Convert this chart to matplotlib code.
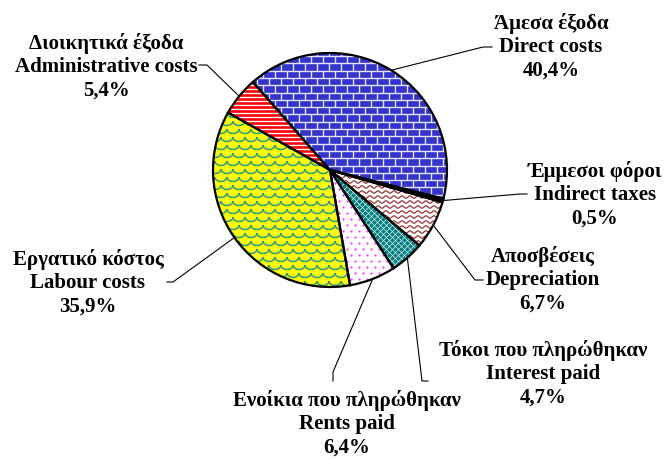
import numpy as np
import matplotlib
matplotlib.use("Agg")
import matplotlib.pyplot as plt
from matplotlib.collections import LineCollection

# Cost structure, in clockwise order starting at the top-left
names_gr = ["Άμεσα έξοδα", "Έμμεσοι φόροι", "Αποσβέσεις", "Τόκοι που πληρώθηκαν",
            "Ενοίκια που πληρώθηκαν", "Εργατικό κόστος", "Διοικητικά έξοδα"]
names_en = ["Direct costs", "Indirect taxes", "Depreciation", "Interest paid",
            "Rents paid", "Labour costs", "Administrative costs"]
shares = [40.4, 0.5, 6.7, 4.7, 6.4, 35.9, 5.4]

W, H = 664, 459
CX, CY, R = 330, H - 170, 117
START = 131.2

# label layout in pixel coords (centre x, middle line y), leader elbow and end
label_xy = [(551, 47), (595, 195), (543, 280), (543, 374), (347, 424), (88, 283), (106, 67)]
elbows = [(483, 47), (520, 194), (475, 280), (422, 381), (333, 372), (173, 282), (207, 65)]
ends = [(492, 47), (527, 194), (483, 280), (428, 381), (333, 381), (167, 282), (199, 65)]

faces = ["#3434CC", "#000000", "#FFFFFF", "#FFFFFF", "#FFFFFF", "#FFFF00", "#FF0000"]

fig = plt.figure(figsize=(W / 100, H / 100), dpi=100)
ax = fig.add_axes([0, 0, 1, 1])

wedges, _ = ax.pie(shares, colors=faces, startangle=START, counterclock=False,
                   center=(CX, CY), radius=R, wedgeprops=dict(linewidth=0))
outl, _ = ax.pie(shares, colors=faces, startangle=START, counterclock=False,
                 center=(CX, CY), radius=R,
                 wedgeprops=dict(fill=False, edgecolor="black", linewidth=1.6))
for w in outl:
    w.set_zorder(5)

x0, x1 = CX - R - 10, CX + R + 10
y0, y1 = CY - R - 10, CY + R + 10


def add_lines(segs, wedge, color, lw):
    lc = LineCollection(segs, colors=color, linewidths=lw, zorder=3)
    lc.set_clip_path(wedge)
    ax.add_collection(lc)


# Direct costs: bricks
segs = []
bh, bw = 7.3, 12.0
for k, y in enumerate(np.arange(y0, y1, bh)):
    segs.append([(x0, y), (x1, y)])
    off = (k % 2) * bw / 2
    for x in np.arange(x0 + off, x1, bw):
        segs.append([(x, y), (x, y + bh)])
add_lines(segs, wedges[0], "#E4E4F8", 1.0)

# Administrative costs: white horizontal stripes
add_lines([[(x0, y), (x1, y)] for y in np.arange(y0, y1, 4.0)], wedges[6], "white", 1.0)

# Depreciation: brown waves
xs = np.linspace(x0, x1, 600)
add_lines([np.column_stack([xs, y + 1.2 * np.sin(xs * 2 * np.pi / 8)])
           for y in np.arange(y0, y1, 5.0)], wedges[2], "#993333", 0.9)

# Labour costs: teal scales
segs = []
t = np.linspace(np.pi, 2 * np.pi, 14)
for k, y in enumerate(np.arange(y0, y1, 8.0)):
    off = (k % 2) * 6
    for x in np.arange(x0 + off, x1, 12.0):
        segs.append(np.column_stack([x + 6 * np.cos(t), y + 4.5 * np.sin(t)]))
add_lines(segs, wedges[5], "#2A9A8A", 1.1)

# Interest paid: teal checker, rents paid: magenta dots
gx, gy = np.meshgrid(np.arange(x0, x1, 6.0), np.arange(y0, y1, 3.0))
gx = gx + (np.arange(gx.shape[0])[:, None] % 2) * 3
sc = ax.scatter(gx.ravel(), gy.ravel(), s=7, marker="D", color="#008080", lw=0, zorder=3)
sc.set_clip_path(wedges[3])

gx, gy = np.meshgrid(np.arange(x0, x1, 8.0), np.arange(y0, y1, 6.0))
gx = gx + (np.arange(gx.shape[0])[:, None] % 2) * 4
sc = ax.scatter(gx.ravel(), gy.ravel(), s=2.5, color="#FF33FF", lw=0, zorder=3)
sc.set_clip_path(wedges[4])

# labels and leader lines
for w, gr, en, v, (lx, ly), (ex, ey), (tx, ty) in zip(
        wedges, names_gr, names_en, shares, label_xy, elbows, ends):
    mid = np.deg2rad((w.theta1 + w.theta2) / 2)
    sx, sy = CX + R * np.cos(mid), CY + R * np.sin(mid)
    ax.plot([sx, ex, tx], [sy, H - ey, H - ty], color="black", lw=0.8, zorder=4)
    pct = f"{v:.1f}".replace(".", ",") + "%"
    ax.text(lx, H - ly, f"{gr}\n{en}\n{pct}", ha="center", va="center",
            linespacing=1.22, fontsize=15, fontweight="bold",
            family=["Liberation Serif", "DejaVu Serif"])

ax.set_xlim(0, W)
ax.set_ylim(0, H)
ax.set_aspect("equal")
ax.axis("off")

fig.savefig("out.png", dpi=100)
